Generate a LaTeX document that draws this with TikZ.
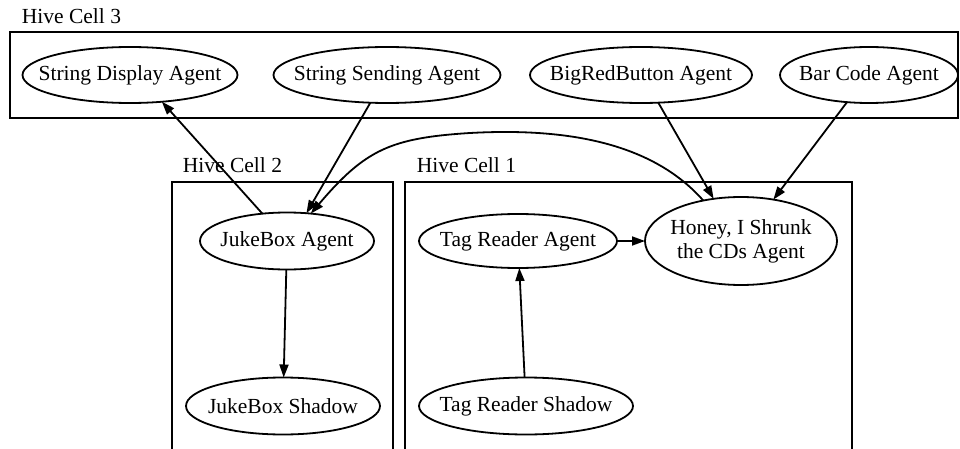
\documentclass[tikz,border=0pt]{standalone}
\usepackage{fontspec}
\setmainfont{Liberation Serif}
\usetikzlibrary{shapes.geometric,arrows.meta}
\begin{document}
\begin{tikzpicture}[x=1pt,y=-1pt,line width=1.8pt,
  agent/.style={draw,ellipse,inner sep=0pt,outer sep=0pt},
  txt/.style={inner sep=0pt,font=\fontsize{21.5}{25}\selectfont,align=center},
  lbl/.style={anchor=base west,inner sep=0pt,font=\fontsize{21.5}{25}\selectfont},
  cell/.style={draw,line width=2pt},
  arr/.style={-{Triangle[length=13pt,width=9pt]},line width=1.8pt}]
\useasboundingbox (0,0) rectangle (960,449);
\clip (0,0) rectangle (960,449);
% cells
\node[lbl] (l3) at (21,24) {Hive Cell 3};
\draw[cell] (10,32) rectangle (958,118);
\node[lbl] (l2) at (182,173) {Hive Cell 2};
\draw[cell] (172,470) -- (172,182) -- (393,182) -- (393,470);
\node[lbl] (l1) at (416,173) {Hive Cell 1};
\draw[cell] (405,470) -- (405,182) -- (852,182) -- (852,470);
% agents
\node[agent,minimum width=215pt,minimum height=56pt] (sd) at (130,75) {};
\node[txt] (sdt) at (sd) {String Display Agent};
\node[agent,minimum width=227pt,minimum height=56pt] (ss) at (387,75) {};
\node[txt] (sst) at (ss) {String Sending Agent};
\node[agent,minimum width=222pt,minimum height=56pt] (brb) at (641,75) {};
\node[txt] (brbt) at (brb) {BigRedButton Agent};
\node[agent,minimum width=178pt,minimum height=56pt] (bc) at (869,75) {};
\node[txt] (bct) at (bc) {Bar Code Agent};
\node[agent,minimum width=174pt,minimum height=57pt] (jba) at (287,241) {};
\node[txt] (jbat) at (jba) {JukeBox Agent};
\node[agent,minimum width=194pt,minimum height=57pt] (jbs) at (283,406) {};
\node[txt] (jbst) at (jbs) {JukeBox Shadow};
\node[agent,minimum width=198pt,minimum height=54pt] (tra) at (518,241) {};
\node[txt] (trat) at (tra) {Tag Reader Agent};
\node[agent,minimum width=214pt,minimum height=57pt] (trs) at (526,406) {};
\node[txt] (trst) at (trs) {Tag Reader Shadow};
\node[agent,minimum width=192pt,minimum height=88pt] (hon) at (741,241) {};
\node[txt] (hont) at (hon) {Honey, I Shrunk\\[-1pt]the CDs Agent};
% edges
\draw[arr] (jba.132.5) -- (sd.-40);
\draw[arr] (ss.-121.5) -- (jba.55);
\draw[arr] (hon.133) .. controls (650,140) and (560,128) .. (470,133)
   .. controls (390,138) and (365,150) .. (jba.49);
\draw[arr] (brb.-58.5) -- (hon.123.6);
\draw[arr] (bc.-129) -- (hon.52.4);
\draw[arr] (tra) -- (hon);
\draw[arr] (trs) -- (tra);
\draw[arr] (jba) -- (jbs);
\end{tikzpicture}
\end{document}
